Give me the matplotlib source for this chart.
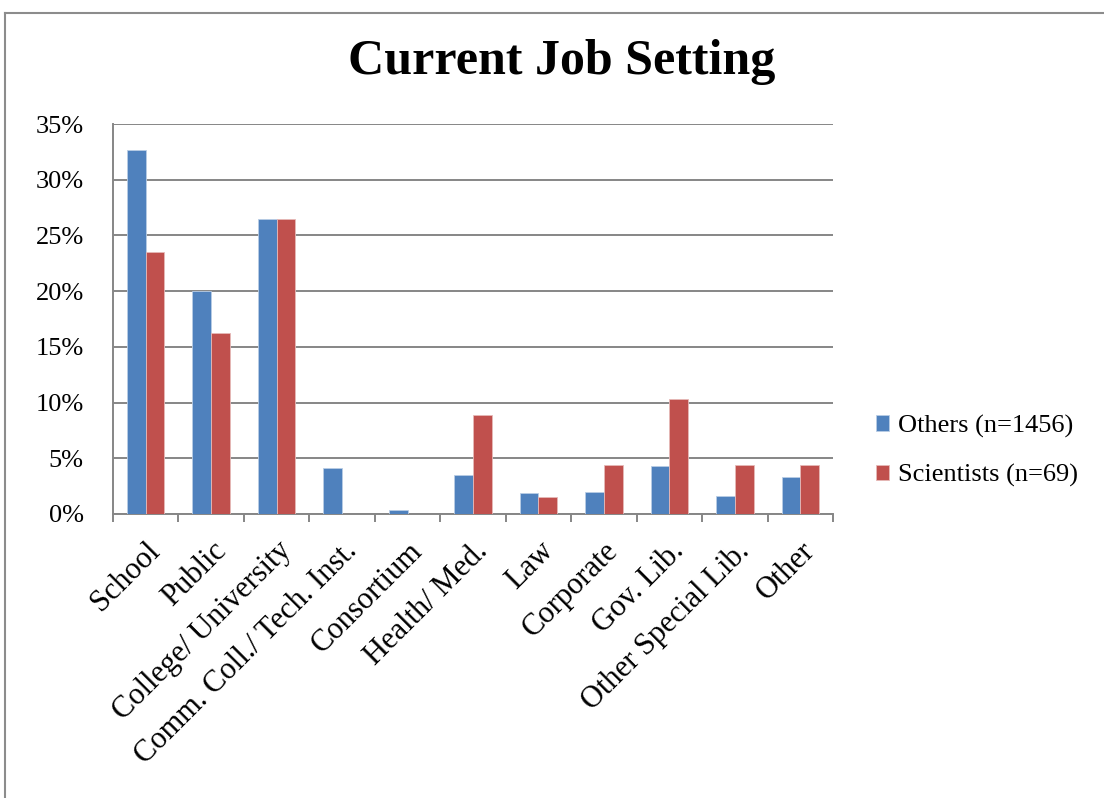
import numpy as np
import matplotlib
matplotlib.use("Agg")
import matplotlib.pyplot as plt
from matplotlib.lines import Line2D

categories = ["School", "Public", "College/ University", "Comm. Coll./ Tech. Inst.",
              "Consortium", "Health/ Med.", "Law", "Corporate", "Gov. Lib.",
              "Other Special Lib.", "Other"]
others = [32.7, 20.0, 26.5, 4.1, 0.35, 3.5, 1.85, 1.95, 4.3, 1.6, 3.3]
scientists = [23.5, 16.2, 26.5, 0.0, 0.0, 8.85, 1.5, 4.43, 10.3, 4.43, 4.43]
series_names = ["Others (n=1456)", "Scientists (n=69)"]
yticks = [0, 5, 10, 15, 20, 25, 30, 35]

plt.rcParams['font.family'] = ['Liberation Serif', 'DejaVu Serif']

fig = plt.figure(figsize=(11.04, 7.98), dpi=100)
ax = fig.add_axes([113 / 1104, 1 - 514 / 798, 720 / 1104, 390 / 798])

x = np.arange(len(categories))
w = 1 / 3.5
b1 = ax.bar(x - w / 2, others, w, color="#4F81BD", edgecolor="#B9CDE5", linewidth=0.6,
            label=series_names[0], zorder=3)
b2 = ax.bar(x + w / 2, scientists, w, color="#C0504D", edgecolor="#E6B9B8", linewidth=0.6,
            label=series_names[1], zorder=3)

grid_c = "#868686"
ax.set_ylim(0, 35)
ax.set_xlim(-0.5, len(categories) - 0.5)
ax.set_yticks(yticks)
ax.set_yticklabels([f"{v}%" for v in yticks], fontsize=19)
ax.yaxis.grid(True, color=grid_c, linewidth=1.4, zorder=0)
ax.tick_params(axis="y", length=0, pad=21)

ax.set_xticks(x)
ax.set_xticklabels(categories, rotation=45, ha="right", rotation_mode="anchor", fontsize=22)
ax.tick_params(axis="x", length=0, pad=16)
ax.set_xticks(np.arange(len(categories) + 1) - 0.5, minor=True)
ax.tick_params(axis="x", which="minor", length=6, width=1.4, color=grid_c)

for s in ["top", "right"]:
    ax.spines[s].set_visible(False)
for s in ["left", "bottom"]:
    ax.spines[s].set_color(grid_c)
    ax.spines[s].set_linewidth(1.4)

fig.text(562 / 1104, 1 - 62 / 798, "Current Job Setting", ha="center", va="center",
         fontsize=36, fontweight="bold")

fig.legend(handles=[b1, b2], labels=series_names, loc="center left",
           bbox_to_anchor=(852 / 1104, 1 - 451 / 798), frameon=False, fontsize=19,
           handlelength=0.5, handleheight=0.5, handletextpad=0.35, labelspacing=1.0)

# outer chart frame (cropped at the right and bottom)
fig.add_artist(Line2D([5 / 1104, 5 / 1104], [0, 1 - 13 / 798], color="#8C8C8C", linewidth=1.5))
fig.add_artist(Line2D([5 / 1104, 1], [1 - 13 / 798, 1 - 13 / 798], color="#8C8C8C", linewidth=1.5))

fig.savefig("out.png", dpi=100)
